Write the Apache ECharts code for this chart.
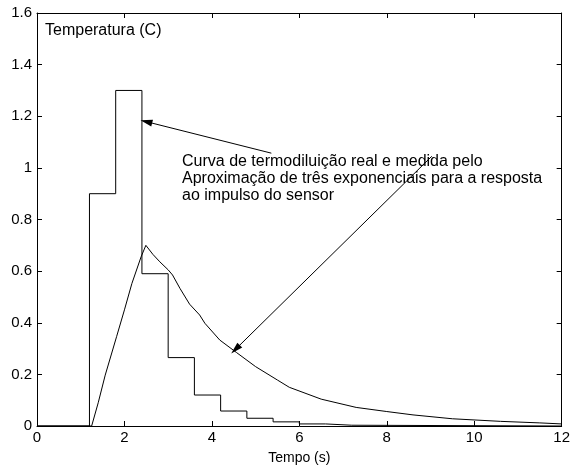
<!DOCTYPE html>
<html>
<head>
<meta charset="utf-8">
<script src="https://cdn.jsdelivr.net/npm/echarts@6/dist/echarts.min.js"></script>
<style>html,body{margin:0;padding:0;background:#fff}#c{width:573px;height:470px}</style>
</head>
<body>
<div id="c"></div>
<script>
// Step function: real thermodilution curve (value held from edge i to edge i+1)
var stepEdges  = [0, 1.2, 1.8, 2.4, 3.0, 3.6, 4.2, 4.8, 5.4, 6.0, 6.6, 7.2, 12];
var stepValues = [0, 0.9, 1.3, 0.59, 0.265, 0.12, 0.058, 0.03, 0.016, 0.008, 0.003, 0, 0];

// Measured / approximated sensor response curve
var curveX = [0, 1.25, 1.4, 1.56, 1.82, 2.0, 2.17, 2.38, 2.49, 2.65, 2.81, 3.0, 3.1, 3.27, 3.49, 3.72, 3.84, 4.18, 4.56, 5.0, 5.5, 5.77, 6.5, 7.3, 8.0, 8.6, 9.5, 10.6, 11.5, 12];
var curveY = [0, 0, 0.09, 0.197, 0.346, 0.45, 0.552, 0.655, 0.70, 0.665, 0.636, 0.605, 0.585, 0.533, 0.472, 0.43, 0.398, 0.333, 0.285, 0.23, 0.178, 0.15, 0.104, 0.072, 0.056, 0.043, 0.028, 0.018, 0.012, 0.008];

var xTicks = [0, 2, 4, 6, 8, 10, 12];
var yTicks = [0, 0.2, 0.4, 0.6, 0.8, 1, 1.2, 1.4, 1.6];

// Annotation arrows [from, to] in data coordinates
var arrow1 = [[5.36, 1.057], [2.50, 1.179]];
var arrow2 = [[9.03, 1.045], [4.54, 0.297]];

var annotationLines = [
  'Curva de termodiluição real e medida pelo',
  'Aproximação de três exponenciais para a resposta',
  'ao impulso do sensor'
];

var FONT = '"Liberation Sans", Arial, sans-serif';
var chart = echarts.init(document.getElementById('c'), null, {renderer: 'canvas'});

var stepData = stepEdges.map(function (x, i) { return [x, stepValues[i]]; });
var curveData = curveX.map(function (x, i) { return [x, curveY[i]]; });

var axisLine = {show: true, onZero: false, lineStyle: {color: '#000', width: 1}};
var tickIn = {show: true, inside: true, length: 5, lineStyle: {color: '#000'}};

chart.setOption({
  animation: false,
  backgroundColor: '#fff',
  grid: {left: 37, right: 9, top: 13, bottom: 44, containLabel: false},
  xAxis: [{
    type: 'value', min: 0, max: 12, interval: 2, position: 'bottom',
    axisLine: axisLine, axisTick: tickIn, splitLine: {show: false},
    axisLabel: {color: '#000', fontFamily: FONT, fontSize: 15, margin: 4,
      formatter: function (v) { return xTicks.indexOf(v) >= 0 ? String(v) : ''; }},
    name: 'Tempo (s)', nameLocation: 'middle', nameGap: 25,
    nameTextStyle: {color: '#000', fontFamily: FONT, fontSize: 14}
  }, {
    type: 'value', min: 0, max: 12, interval: 2, position: 'top',
    axisLine: axisLine, axisTick: tickIn, axisLabel: {show: false}, splitLine: {show: false}
  }],
  yAxis: [{
    type: 'value', min: 0, max: 1.6, interval: 0.2, position: 'left',
    axisLine: axisLine, axisTick: tickIn, splitLine: {show: false},
    axisLabel: {color: '#000', fontFamily: FONT, fontSize: 15, margin: 5,
      formatter: function (v) {
        var r = Math.round(v * 10) / 10;
        return yTicks.indexOf(r) >= 0 ? String(r) : '';
      }}
  }, {
    type: 'value', min: 0, max: 1.6, interval: 0.2, position: 'right',
    axisLine: axisLine, axisTick: tickIn, axisLabel: {show: false}, splitLine: {show: false}
  }],
  series: [{
    type: 'line', step: 'end', data: stepData, symbol: 'none',
    lineStyle: {color: '#000', width: 1}, silent: true
  }, {
    type: 'line', data: curveData, symbol: 'none', smooth: false,
    lineStyle: {color: '#000', width: 1}, silent: true,
    markLine: {
      silent: true, symbol: ['none', 'triangle'], symbolSize: [7, 12],
      label: {show: false},
      lineStyle: {color: '#000', width: 1, type: 'solid'},
      data: [
        [{coord: arrow1[0]}, {coord: arrow1[1]}],
        [{coord: arrow2[0]}, {coord: arrow2[1]}]
      ]
    }
  }],
  graphic: [{
    type: 'text', left: 45, top: 23,
    style: {text: 'Temperatura (C)', font: '16px ' + FONT, fill: '#000'}
  }, {
    type: 'text', left: 182, top: 153,
    style: {text: annotationLines.join('\n'), font: '16px ' + FONT, lineHeight: 17, fill: '#000'}
  }]
});
</script>
</body>
</html>
